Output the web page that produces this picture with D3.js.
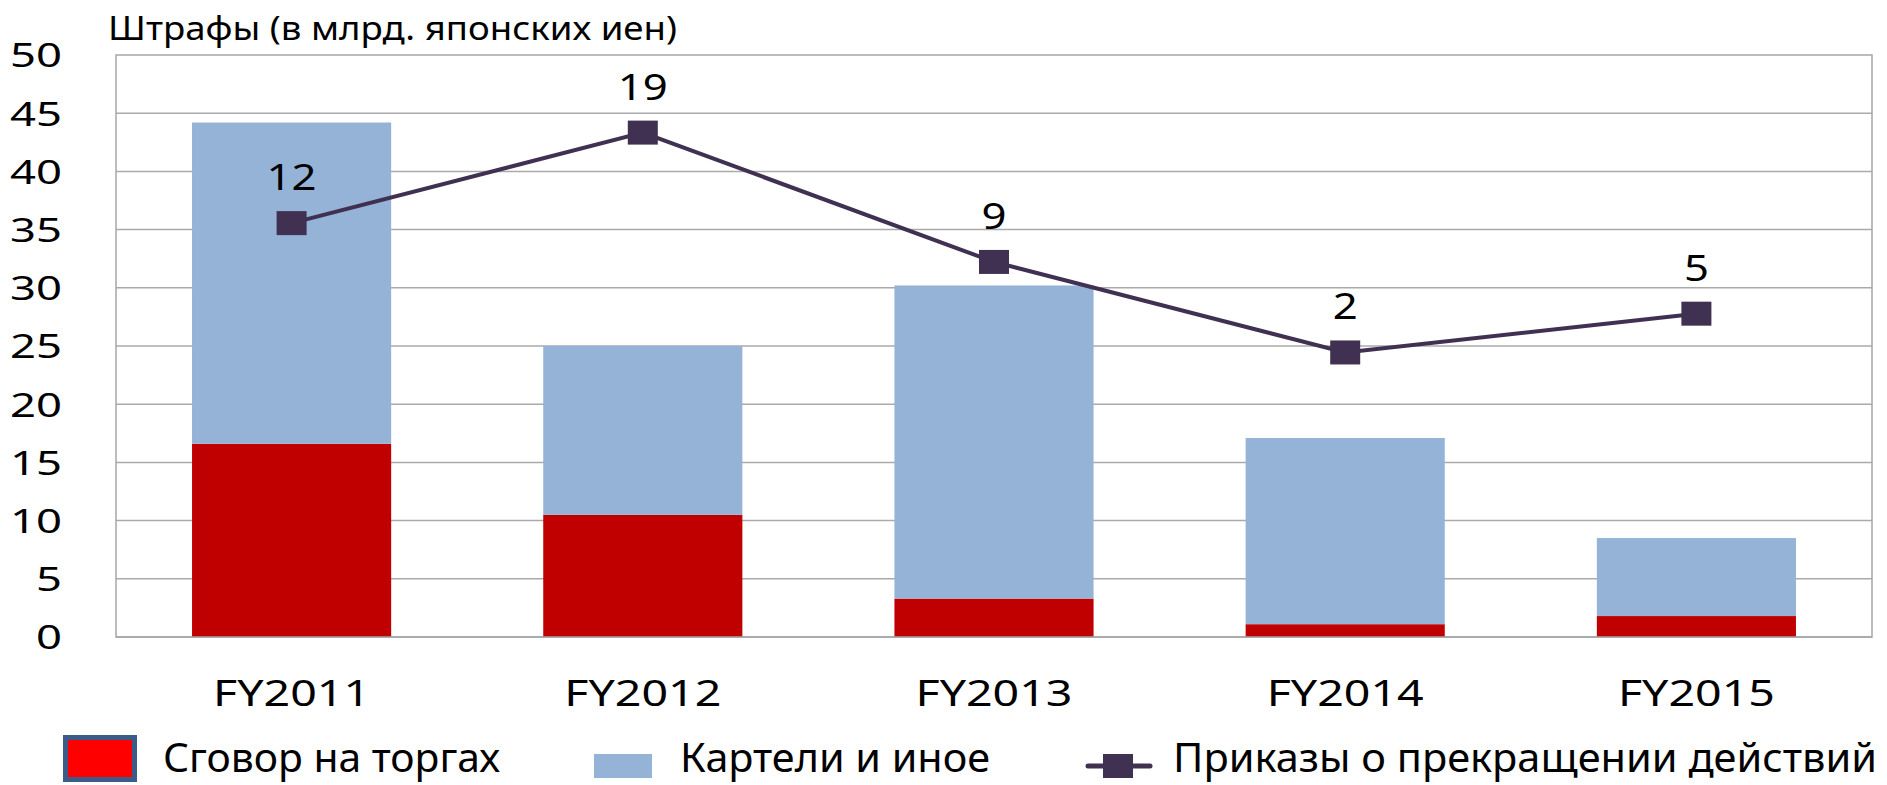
<!DOCTYPE html>
<html>
<head>
<meta charset="utf-8">
<script src="https://cdn.jsdelivr.net/npm/d3@7"></script>
<style>
  body { margin: 0; background: #fff; }
  text { font-family: "Noto Sans", "Open Sans", sans-serif; fill: #000; }
</style>
</head>
<body>
<div id="chart"></div>
<script>
// data
const years = ["FY2011", "FY2012", "FY2013", "FY2014", "FY2015"];
const bidRigging = [16.6, 10.5, 3.3, 1.1, 1.8];     // Сговор на торгах
const cartels    = [27.6, 14.5, 26.9, 16.0, 6.7];   // Картели и иное (stacked on top)
const orders     = [12, 19, 9, 2, 5];               // Приказы о прекращении действий
const yTicks = [0, 5, 10, 15, 20, 25, 30, 35, 40, 45, 50];
const seriesNames = ["Сговор на торгах", "Картели и иное", "Приказы о прекращении действий"];

const W = 1887, H = 785;
const plotL = 116, plotR = 1872, plotT = 55, plotB = 637;

const svg = d3.select("#chart").append("svg")
    .attr("width", W)
    .attr("height", H);

const x = d3.scaleBand()
    .domain(years)
    .range([plotL, plotR])
    .paddingInner(0.433)
    .paddingOuter(0.2165);

const y = d3.scaleLinear().domain([0, 50]).range([plotB, plotT]);
// hidden secondary axis for the line series
const y2 = d3.scaleLinear().domain([-20, 25]).range([plotB, plotT]);

// stretch a text element to a given width (the source is stretched sideways)
function fit(sel, w) {
    sel.attr("textLength", w).attr("lengthAdjust", "spacingAndGlyphs");
}

// --- grid ---
svg.append("g")
    .selectAll("line")
    .data(yTicks.filter(d => d > 0 && d < 50))
    .enter().append("line")
    .attr("x1", plotL).attr("x2", plotR)
    .attr("y1", d => y(d)).attr("y2", d => y(d))
    .attr("stroke", "#aaaaaa")
    .attr("stroke-width", 1.5);

svg.append("rect")
    .attr("x", plotL).attr("y", plotT)
    .attr("width", plotR - plotL).attr("height", plotB - plotT)
    .attr("fill", "none")
    .attr("stroke", "#a6a6a6")
    .attr("stroke-width", 1.5);

// --- stacked bars ---
const rows = years.map((yr, i) => ({ year: yr, bid: bidRigging[i], cartel: cartels[i] }));
const stack = d3.stack().keys(["bid", "cartel"])(rows);
const barColors = ["#c00000", "#95b3d7"];

svg.append("g")
    .selectAll("g")
    .data(stack)
    .enter().append("g")
    .attr("fill", (d, i) => barColors[i])
    .selectAll("rect")
    .data(d => d)
    .enter().append("rect")
    .attr("x", d => x(d.data.year))
    .attr("width", x.bandwidth())
    .attr("y", d => y(d[1]))
    .attr("height", d => y(d[0]) - y(d[1]));

// redraw bottom border over bars
svg.append("line")
    .attr("x1", plotL).attr("x2", plotR)
    .attr("y1", plotB).attr("y2", plotB)
    .attr("stroke", "#a6a6a6").attr("stroke-width", 1.5);

// --- line of orders ---
const cx = (d, i) => x(years[i]) + x.bandwidth() / 2;

svg.append("path")
    .datum(orders)
    .attr("d", d3.line().x(cx).y(d => y2(d)))
    .attr("fill", "none")
    .attr("stroke", "#403152")
    .attr("stroke-width", 4);

svg.append("g")
    .selectAll("rect")
    .data(orders)
    .enter().append("rect")
    .attr("x", (d, i) => cx(d, i) - 15)
    .attr("y", d => y2(d) - 12)
    .attr("width", 30)
    .attr("height", 24)
    .attr("fill", "#403152");

svg.append("g")
    .selectAll("text")
    .data(orders)
    .enter().append("text")
    .attr("x", (d, i) => cx(d, i))
    .attr("y", d => y2(d) - 33)
    .attr("text-anchor", "middle")
    .style("font-size", "36px")
    .text(d => d)
    .each(function (d) { fit(d3.select(this), String(d).length * 25); });

// --- axes ---
const yAxis = svg.append("g")
    .attr("transform", `translate(${plotL},0)`)
    .call(d3.axisLeft(y).tickValues(yTicks).tickSize(0).tickPadding(54));
yAxis.select(".domain").remove();
yAxis.selectAll("text")
    .attr("x", -54)
    .attr("dy", "0.36em")
    .style("font-size", "33px")
    .style("font-family", "'Noto Sans', sans-serif")
    .attr("fill", "#000")
    .each(function (d) { fit(d3.select(this), String(d).length * 26); });

const xAxis = svg.append("g")
    .attr("transform", `translate(0,${plotB})`)
    .call(d3.axisBottom(x).tickSize(0).tickPadding(0));
xAxis.select(".domain").remove();
xAxis.selectAll("text")
    .attr("y", 69)
    .attr("dy", 0)
    .style("font-size", "36px")
    .style("font-family", "'Noto Sans', sans-serif")
    .attr("fill", "#000")
    .each(function () { fit(d3.select(this), 157); });

// --- title ---
svg.append("text")
    .attr("x", 108)
    .attr("y", 40)
    .style("font-size", "32px")
    .text("Штрафы (в млрд. японских иен)")
    .call(fit, 569);

// --- legend ---
const leg = svg.append("g");

leg.append("rect")
    .attr("x", 65.5).attr("y", 737.5)
    .attr("width", 69).attr("height", 42)
    .attr("fill", "#ff0000")
    .attr("stroke", "#3b5b8a")
    .attr("stroke-width", 5);

leg.append("rect")
    .attr("x", 594).attr("y", 754)
    .attr("width", 58).attr("height", 24)
    .attr("fill", "#95b3d7");

leg.append("line")
    .attr("x1", 1088).attr("x2", 1150)
    .attr("y1", 766).attr("y2", 766)
    .attr("stroke", "#403152").attr("stroke-width", 5)
    .attr("stroke-linecap", "round");
leg.append("rect")
    .attr("x", 1103).attr("y", 754)
    .attr("width", 30).attr("height", 24)
    .attr("fill", "#403152");

const legText = [
    { x: 163, w: 337 },
    { x: 680, w: 310 },
    { x: 1173, w: 704 }
];

leg.selectAll("text.lg")
    .data(seriesNames)
    .enter().append("text")
    .attr("class", "lg")
    .attr("x", (d, i) => legText[i].x)
    .attr("y", 772)
    .style("font-size", "40px")
    .text(d => d)
    .each(function (d, i) { fit(d3.select(this), legText[i].w); });
</script>
</body>
</html>
